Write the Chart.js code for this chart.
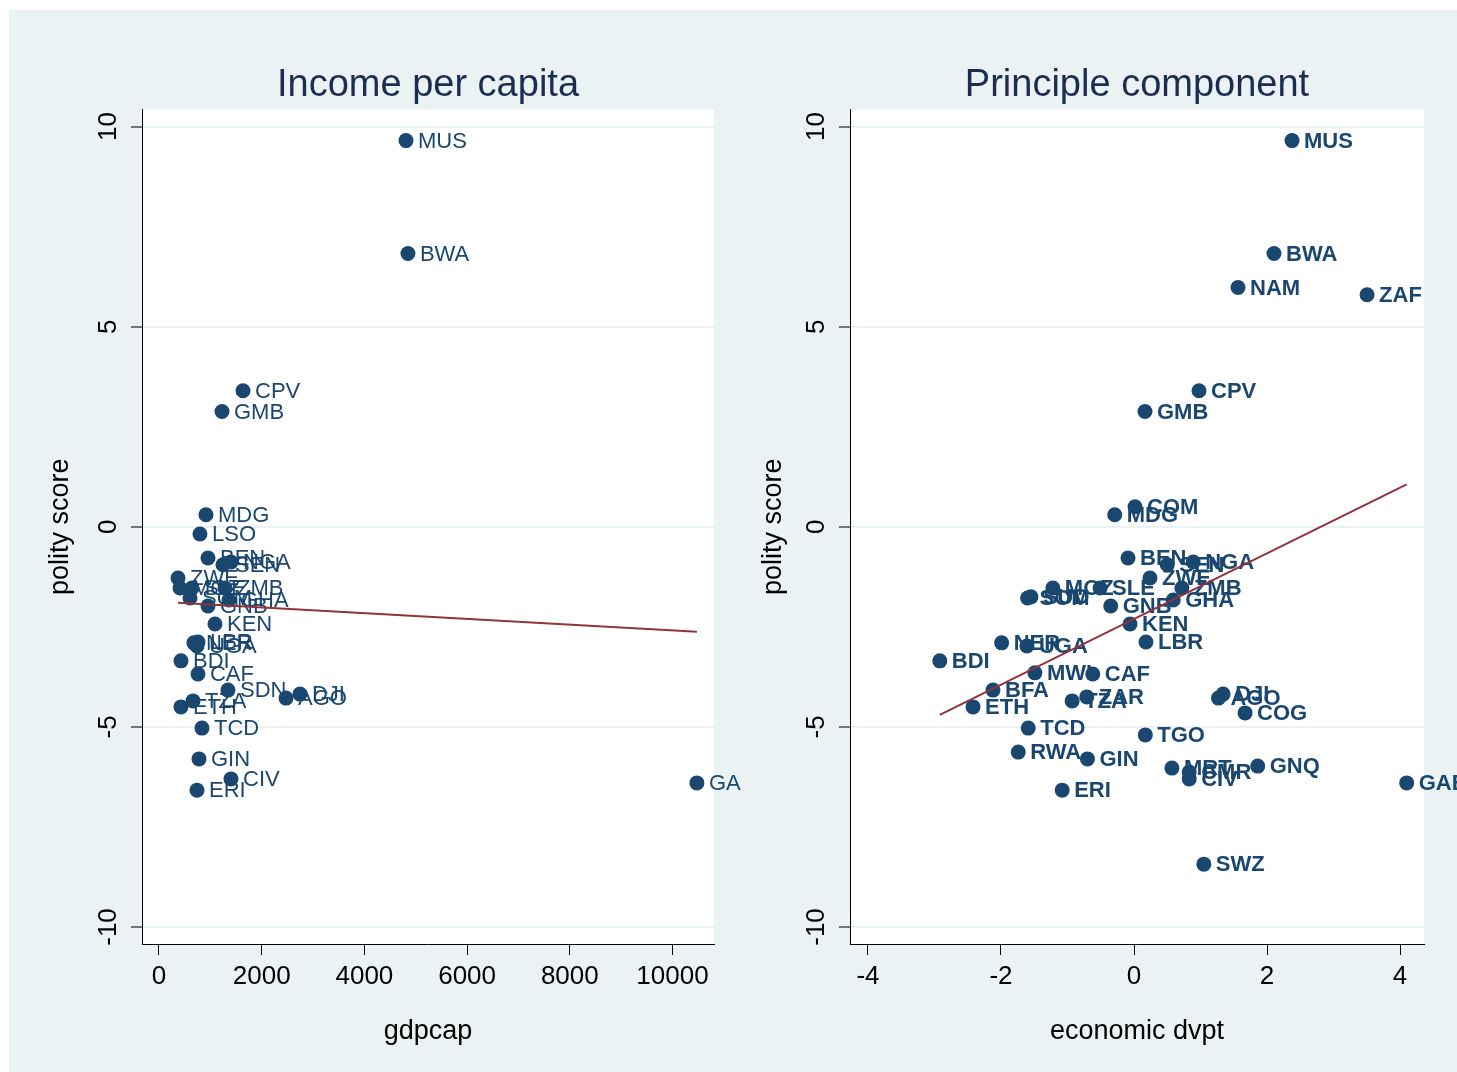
<!DOCTYPE html>
<html>
<head>
<meta charset="utf-8">
<script src="https://cdn.jsdelivr.net/npm/chart.js@4.4.1/dist/chart.umd.min.js"></script>
<style>
  html, body { margin: 0; padding: 0; background: #fff; }
  #bg { position: absolute; left: 9px; top: 10px; width: 1448px; height: 1062px; background: #eaf2f3; }
  canvas { position: absolute; top: 10px; }
  #gdpChart { left: 9px; }
  #pcChart { left: 741px; }
</style>
</head>
<body>
<div id="bg"></div>
<canvas id="gdpChart" width="732" height="1062"></canvas>
<canvas id="pcChart" width="716" height="1062"></canvas>
<script>
// Left panel: polity score against income per capita
const gdpCountries = ['MUS', 'BWA', 'CPV', 'GMB', 'MDG', 'LSO', 'BEN', 'SEN', 'NGA', 'ZWE', 'MOZ', 'SLE',
  'ZMB', 'GHA', 'SOM', 'GNB', 'KEN', 'LBR', 'NER', 'UGA', 'BDI', 'CAF', 'SDN', 'DJI', 'AGO', 'TZA',
  'ETH', 'TCD', 'GIN', 'CIV', 'ERI', 'GAB'];
const gdpcap = [4810, 4848, 1636, 1227, 915, 798, 954, 1246, 1402, 370, 409, 643,
  1285, 1363, 604, 954, 1090, 760, 680, 740, 428, 759, 1343, 2745, 2473, 662,
  428, 837, 779, 1402, 740, 10475];
const gdpPolity = [9.65, 6.83, 3.4, 2.88, 0.3, -0.18, -0.78, -0.95, -0.88, -1.28, -1.53, -1.53,
  -1.53, -1.83, -1.78, -1.98, -2.43, -2.88, -2.9, -2.98, -3.35, -3.68, -4.08, -4.18, -4.28, -4.35,
  -4.5, -5.03, -5.8, -6.3, -6.58, -6.4];
const gdpFitX = [370, 10475];
const gdpFitY = [-1.9, -2.62];
const gdpTicks = [0, 2000, 4000, 6000, 8000, 10000];

// Right panel: polity score against the principal component
const pcCountries = ['MUS', 'BWA', 'NAM', 'ZAF', 'CPV', 'GMB', 'COM', 'MDG', 'BEN', 'SEN', 'NGA', 'ZWE',
  'MOZ', 'SLE', 'ZMB', 'GHA', 'SOM', 'SUD', 'GNB', 'KEN', 'LBR', 'NER', 'UGA', 'BDI', 'MWI', 'CAF',
  'BFA', 'ETH', 'TZA', 'ZAR', 'DJI', 'AGO', 'COG', 'TCD', 'TGO', 'RWA', 'GIN', 'MRT', 'CMR', 'CIV',
  'GNQ', 'GAB', 'ERI', 'SWZ'];
const econDvpt = [2.376, 2.105, 1.564, 3.504, 0.977, 0.165, 0.015, -0.29, -0.09, 0.5, 0.89, 0.24,
  -1.22, -0.51, 0.72, 0.59, -1.6, -1.55, -0.35, -0.06, 0.18, -1.99, -1.61, -2.92, -1.49, -0.62,
  -2.12, -2.42, -0.93, -0.71, 1.34, 1.27, 1.67, -1.59, 0.17, -1.74, -0.7, 0.57, 0.83, 0.83,
  1.86, 4.1, -1.08, 1.05];
const pcPolity = [9.65, 6.83, 5.98, 5.8, 3.4, 2.88, 0.5, 0.3, -0.78, -0.95, -0.88, -1.28,
  -1.53, -1.53, -1.53, -1.83, -1.78, -1.75, -1.98, -2.43, -2.88, -2.9, -2.98, -3.35, -3.65, -3.68,
  -4.08, -4.5, -4.35, -4.25, -4.18, -4.28, -4.65, -5.03, -5.2, -5.63, -5.8, -6.03, -6.13, -6.3,
  -5.98, -6.4, -6.58, -8.43];
const pcFitX = [-2.92, 4.1];
const pcFitY = [-4.7, 1.06];
const pcTicks = [-4, -2, 0, 2, 4];

const polityTicks = [-10, -5, 0, 5, 10];

const FONT = "'Liberation Sans', Arial, sans-serif";
const NAVY = '#1a476f';
const MAROON = '#90353b';
const GRID = '#eaf2f3';

// white plot region
const plotBackground = {
  id: 'plotBackground',
  beforeDraw(chart) {
    const { ctx, chartArea: a } = chart;
    ctx.save();
    ctx.fillStyle = '#fff';
    ctx.fillRect(a.left, a.top, a.right - a.left, a.bottom - a.top);
    ctx.restore();
  }
};

// country codes next to the markers (drawn before the fit line)
const markerLabels = {
  id: 'markerLabels',
  afterDatasetDraw(chart, args, opts) {
    if (args.index !== 0) return;
    const { ctx } = chart;
    const codes = chart.data.datasets[0].codes;
    ctx.save();
    ctx.fillStyle = NAVY;
    ctx.font = opts.weight + ' 22px ' + FONT;
    ctx.textAlign = 'left';
    ctx.textBaseline = 'middle';
    args.meta.data.forEach((pt, i) => {
      ctx.fillText(codes[i], pt.x + 12, pt.y + 1);
    });
    ctx.restore();
  }
};

function makePanel(canvasId, p) {
  const points = p.xs.map((x, i) => ({ x: x, y: p.ys[i] }));
  const fit = p.fitX.map((x, i) => ({ x: x, y: p.fitY[i] }));
  return new Chart(document.getElementById(canvasId), {
    type: 'scatter',
    data: {
      datasets: [
        {
          data: points,
          codes: p.codes,
          backgroundColor: NAVY,
          borderWidth: 0,
          pointRadius: 7.5,
          order: 2
        },
        {
          type: 'line',
          data: fit,
          borderColor: MAROON,
          borderWidth: 2,
          pointRadius: 0,
          fill: false,
          order: 1
        }
      ]
    },
    options: {
      responsive: false,
      animation: false,
      events: [],
      layout: { padding: { left: 0, right: p.padRight, top: 0, bottom: 0 } },
      plugins: {
        legend: { display: false },
        tooltip: { enabled: false },
        title: {
          display: true,
          text: p.title,
          fullSize: false,
          color: '#1c2d52',
          font: { family: FONT, size: 38, weight: 'normal' },
          padding: { top: 53, bottom: 1 }
        },
        markerLabels: { weight: p.labelWeight }
      },
      scales: {
        x: {
          type: 'linear',
          position: 'bottom',
          min: p.xMin,
          max: p.xMax,
          afterBuildTicks: s => { s.ticks = p.xTicks.map(v => ({ value: v })); },
          afterFit: s => { s.height = 128; },
          grid: { drawOnChartArea: false, tickLength: 11, tickColor: '#000', tickWidth: 1 },
          border: { color: '#000', width: 1 },
          ticks: {
            color: '#000',
            font: { family: FONT, size: 26 },
            padding: 6,
            maxRotation: 0,
            callback: v => String(v)
          },
          title: {
            display: true,
            text: p.xTitle,
            color: '#000',
            font: { family: FONT, size: 27 },
            padding: { top: 0, bottom: 24 }
          }
        },
        y: {
          type: 'linear',
          position: 'left',
          min: -10.425,
          max: 10.425,
          afterBuildTicks: s => { s.ticks = polityTicks.map(v => ({ value: v })); },
          afterFit: s => { s.width = p.yWidth; },
          grid: { color: GRID, lineWidth: 2, tickLength: 11, tickColor: '#000', tickWidth: 1 },
          border: { color: '#000', width: 1 },
          ticks: {
            color: '#000',
            font: { family: FONT, size: 26 },
            padding: 3,
            minRotation: 90,
            maxRotation: 90,
            crossAlign: 'center',
            callback: v => String(v)
          },
          title: {
            display: true,
            text: 'polity score',
            color: '#000',
            font: { family: FONT, size: 27 },
            padding: { top: p.yTitlePad, bottom: 0 }
          }
        }
      }
    },
    plugins: [plotBackground, markerLabels]
  });
}

makePanel('gdpChart', {
  title: 'Income per capita',
  xTitle: 'gdpcap',
  codes: gdpCountries,
  xs: gdpcap,
  ys: gdpPolity,
  fitX: gdpFitX,
  fitY: gdpFitY,
  xTicks: gdpTicks,
  xMin: -331,
  xMax: 10808,
  padRight: 27,
  yWidth: 133,
  yTitlePad: 35,
  labelWeight: 'normal'
});

makePanel('pcChart', {
  title: 'Principle component',
  xTitle: 'economic dvpt',
  codes: pcCountries,
  xs: econDvpt,
  ys: pcPolity,
  fitX: pcFitX,
  fitY: pcFitY,
  xTicks: pcTicks,
  xMin: -4.27,
  xMax: 4.36,
  padRight: 33,
  yWidth: 109,
  yTitlePad: 16,
  labelWeight: 'bold'
});
</script>
</body>
</html>
